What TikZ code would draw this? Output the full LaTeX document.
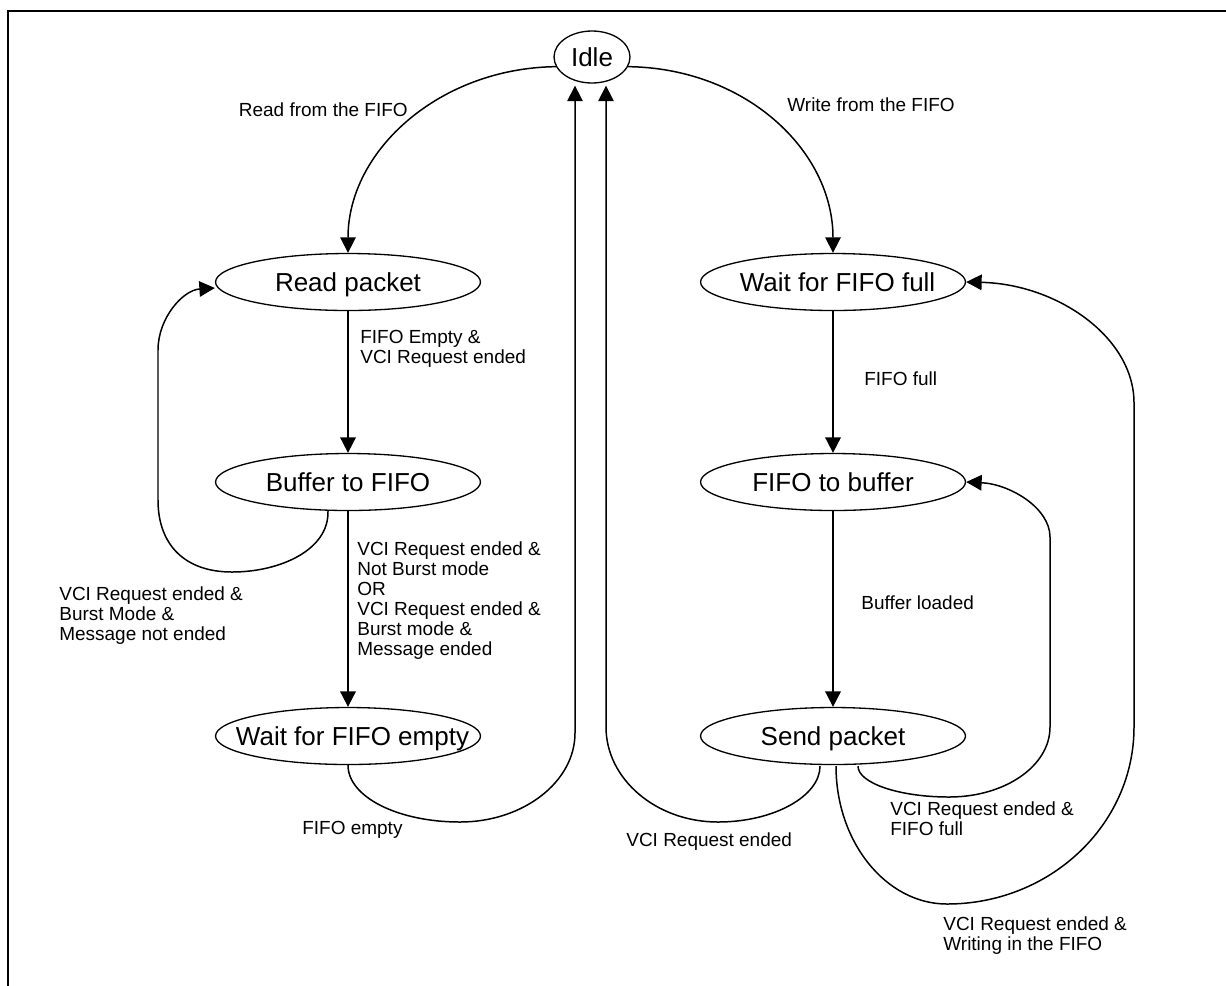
\documentclass[tikz,border=0pt]{standalone}
\usepackage{fontspec}
\setmainfont{Liberation Sans}
\usetikzlibrary{arrows.meta,calc,shapes.geometric}
\begin{document}
\begin{tikzpicture}[x=0.02cm,y=-0.02cm,
  state/.style={draw,ellipse,line width=0.75pt,inner sep=0pt,minimum width=5.3cm,minimum height=1.14cm,font=\fontsize{14.8}{16}\selectfont,text height=10.6pt,text depth=0pt},
  lbl/.style={inner sep=0pt,align=left,font=\fontsize{10.8}{11.4}\selectfont},
  conn/.style={line width=0.85pt},
  arr/.style={conn,-{Triangle[length=0.31cm,width=0.31cm]}},
  straight/.style={arr,line width=1.05pt},
  frame/.style={line width=1.4pt}]
\useasboundingbox (0,0) rectangle (1226,985);
\draw[frame] (8,990) -- (8,11) -- (1230,11);

% states
\node[state,minimum width=1.52cm,minimum height=1.04cm] (idle) at (592,57) {\makebox[0pt]{Idle}};
\node[state] (rp) at (348,282) {\makebox[0pt]{Read packet}};
\node[state] (bf) at (348,482) {\makebox[0pt]{Buffer to FIFO}};
\node[state] (we) at (348,736) {\makebox[0pt]{\hspace*{0.18cm}Wait for FIFO empty}};
\node[state] (wf) at (833,282) {\makebox[0pt]{\hspace*{0.18cm}Wait for FIFO full}};
\node[state] (fb) at (833,482) {\makebox[0pt]{FIFO to buffer}};
\node[state] (sp) at (833,736) {\makebox[0pt]{Send packet}};

% labels
\node[lbl,anchor=east] (lread) at (408,110) {Read from the FIFO};
\node[lbl,anchor=west] (lwrite) at (787,105) {Write from the FIFO};
\node[lbl,anchor=north west] (lrp) at (360,330) {FIFO Empty \&\\VCI Request ended};
\node[lbl,anchor=north west] (lbf) at (357,541) {VCI Request ended \&\\Not Burst mode\\OR\\VCI Request ended \&\\Burst mode \&\\Message ended};
\node[lbl,anchor=north west] (lloop) at (59,586) {VCI Request ended \&\\Burst Mode \&\\Message not ended};
\node[lbl,anchor=west] (lwe) at (302,830) {FIFO empty};
\node[lbl,anchor=west] (lwf) at (864,379) {FIFO full};
\node[lbl,anchor=west] (lfb) at (861,603) {Buffer loaded};
\node[lbl,anchor=west] (lsp1) at (626,842) {VCI Request ended};
\node[lbl,anchor=north west] (lsp2) at (890,801) {VCI Request ended \&\\FIFO full};
\node[lbl,anchor=north west] (lsp3) at (943,916) {VCI Request ended \&\\Writing in the FIFO};

% connectors
\draw[arr] (idle.195) .. controls (440,68) and (348,150) .. (rp.north);
\draw[arr] (idle.-15) .. controls (745,68) and (833,150) .. (wf.north);
\draw[straight] (rp.south) -- (bf.north);
\draw[straight] (bf.south) -- (we.north);
\draw[straight] (wf.south) -- (fb.north);
\draw[straight] (fb.south) -- (sp.north);

\draw[arr] ($(bf.south)+(-20,0)$) .. controls (329,550) and (280,572) .. (232,572)
  .. controls (185,572) and (158,545) .. (158,500) -- (158,350)
  .. controls (158,318) and (183,290) .. ($(rp.west)+(0,6)$);

\draw[arr] (we.south) .. controls (348,797) and (398,822) .. (460,822)
  .. controls (523,822) and (575,782) .. (575,733) -- ($(idle.south)+(-17,2)$);

\draw[arr] ($(sp.south)+(-13,1)$) .. controls (820,796) and (774,822) .. (718,822)
  .. controls (656,822) and (606,779) .. (606,727) -- ($(idle.south)+(14,2)$);

\draw[arr] ($(sp.south)+(25,1)$) .. controls (858,783) and (899,797) .. (949,797)
  .. controls (1005,797) and (1050,766) .. (1050,727) -- (1050,537)
  .. controls (1050,508) and (1010,484) .. (fb.east);

\draw[arr] ($(sp.south)+(3,1)$) .. controls (836,842) and (886,904) .. (947,904)
  .. controls (1050,904) and (1134,825) .. (1134,727) -- (1134,403)
  .. controls (1134,337) and (1057,284) .. (wf.east);
\end{tikzpicture}
\end{document}
